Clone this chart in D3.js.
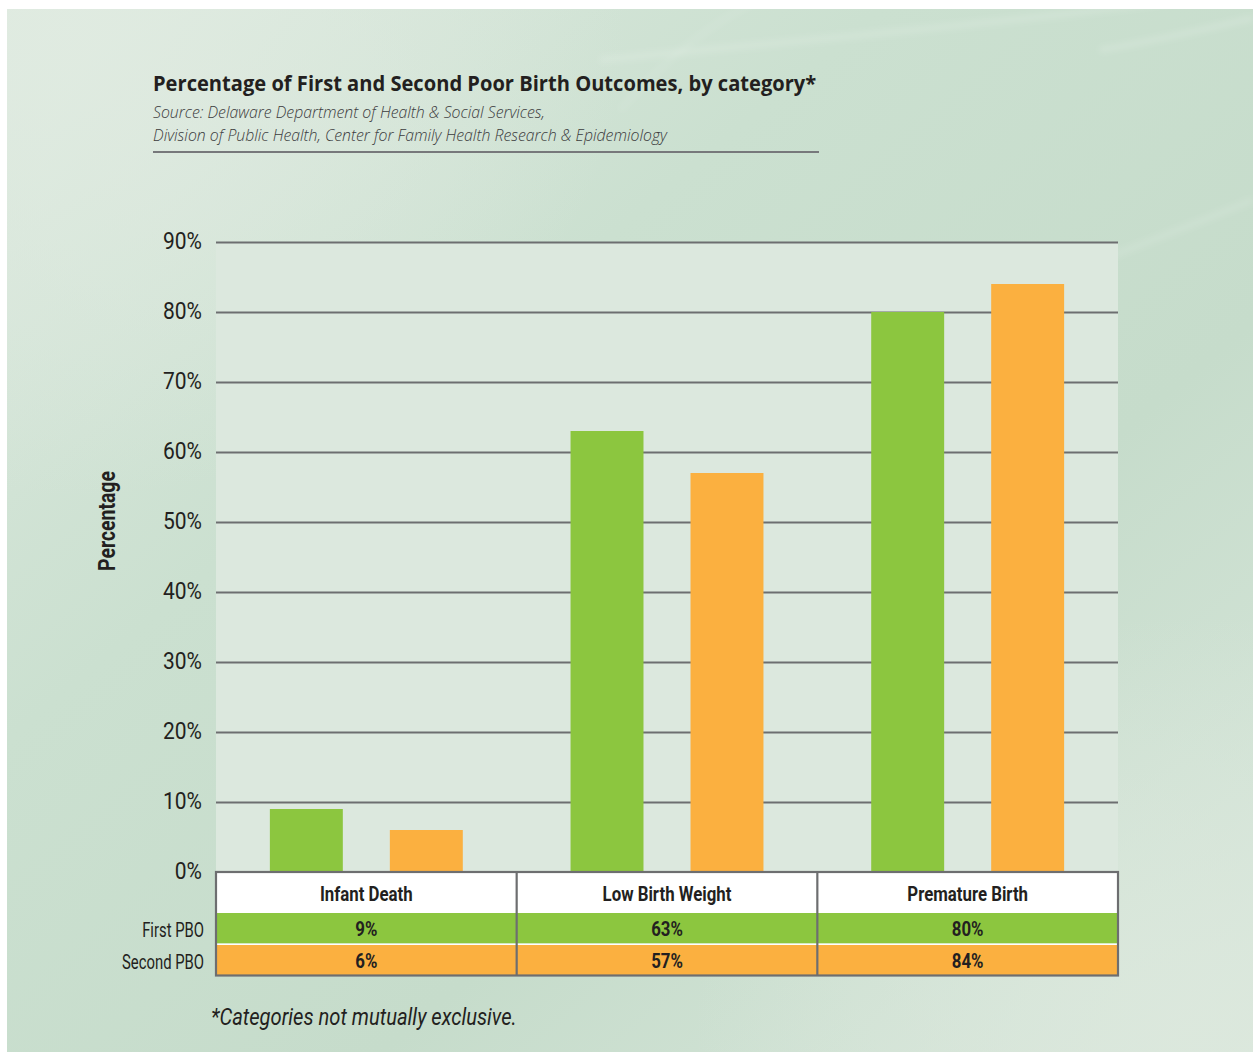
<!DOCTYPE html>
<html>
<head>
<meta charset="utf-8">
<script src="https://cdn.jsdelivr.net/npm/d3@7"></script>
<style>
  html, body { margin: 0; padding: 0; background: #ffffff; }
  svg { display: block; }
</style>
</head>
<body>
<svg id="chart" width="1253" height="1053"></svg>
<script>
// Poor birth outcomes by category, first vs. second PBO (%)
const categories = ["Infant Death", "Low Birth Weight", "Premature Birth"];
const seriesNames = ["First PBO", "Second PBO"];
const firstPBO = [9, 63, 80];
const secondPBO = [6, 57, 84];
const yTickValues = [0, 10, 20, 30, 40, 50, 60, 70, 80, 90];
const yTickLabels = ["0%", "10%", "20%", "30%", "40%", "50%", "60%", "70%", "80%", "90%"];

const titleText = "Percentage of First and Second Poor Birth Outcomes, by category*";
const sourceLines = [
  "Source: Delaware Department of Health & Social Services,",
  "Division of Public Health, Center for Family Health Research & Epidemiology"
];
const footnoteText = "*Categories not mutually exclusive.";
const yAxisTitle = "Percentage";

const seriesValues = [firstPBO, secondPBO];
const colors = { "First PBO": "#8cc63f", "Second PBO": "#fbb040" };
const ink = "#231f20";
const gridColor = "#6d6e70";
const narrow = "Roboto, 'Liberation Sans', sans-serif";
const regular = "'Open Sans', 'Noto Sans', sans-serif";

const svg = d3.select("#chart");
const defs = svg.append("defs");

// panel background: soft green with lighter corners
const lg = defs.append("linearGradient").attr("id", "panelBase")
  .attr("x1", "0").attr("y1", "0").attr("x2", "1").attr("y2", "1");
lg.append("stop").attr("offset", "0%").attr("stop-color", "#dde9df");
lg.append("stop").attr("offset", "35%").attr("stop-color", "#cbe0d0");
lg.append("stop").attr("offset", "65%").attr("stop-color", "#c6dccb");
lg.append("stop").attr("offset", "100%").attr("stop-color", "#d9e7dc");

const rg1 = defs.append("radialGradient").attr("id", "glowTL")
  .attr("cx", "0.05").attr("cy", "0.02").attr("r", "0.45");
rg1.append("stop").attr("offset", "0%").attr("stop-color", "#e0ebe1").attr("stop-opacity", 0.9);
rg1.append("stop").attr("offset", "100%").attr("stop-color", "#e0ebe1").attr("stop-opacity", 0);

const rg2 = defs.append("radialGradient").attr("id", "glowBR")
  .attr("cx", "0.95").attr("cy", "0.98").attr("r", "0.4");
rg2.append("stop").attr("offset", "0%").attr("stop-color", "#dce8dd").attr("stop-opacity", 0.9);
rg2.append("stop").attr("offset", "100%").attr("stop-color", "#dce8dd").attr("stop-opacity", 0);

const blur = defs.append("filter").attr("id", "soft").attr("x", "-10%").attr("y", "-10%")
  .attr("width", "120%").attr("height", "120%");
blur.append("feGaussianBlur").attr("stdDeviation", 3);

const panel = { x: 7, y: 9, w: 1246, h: 1043 };
svg.append("rect").attr("x", panel.x).attr("y", panel.y).attr("width", panel.w).attr("height", panel.h)
  .attr("fill", "url(#panelBase)");
svg.append("rect").attr("x", panel.x).attr("y", panel.y).attr("width", panel.w).attr("height", panel.h)
  .attr("fill", "url(#glowTL)");
svg.append("rect").attr("x", panel.x).attr("y", panel.y).attr("width", panel.w).attr("height", panel.h)
  .attr("fill", "url(#glowBR)");

// faint decorative swooshes in the backdrop
const swooshes = svg.append("g").attr("fill", "none").attr("stroke", "#ffffff")
  .attr("filter", "url(#soft)");
swooshes.append("path").attr("d", "M600,60 C800,40 1050,20 1253,-10")
  .attr("stroke-width", 6).attr("stroke-opacity", 0.15);
swooshes.append("path").attr("d", "M1100,50 C1160,40 1210,28 1253,18")
  .attr("stroke-width", 5).attr("stroke-opacity", 0.18);
swooshes.append("path").attr("d", "M620,110 C700,20 760,0 800,-20")
  .attr("stroke-width", 4).attr("stroke-opacity", 0.1);
swooshes.append("path").attr("d", "M1000,300 C1100,260 1180,230 1253,200")
  .attr("stroke-width", 6).attr("stroke-opacity", 0.12);

// plot geometry
const plot = { left: 216, right: 1118, top: 242, bottom: 872 };

const x0 = d3.scaleBand().domain(categories).range([plot.left, plot.right]).paddingInner(0).paddingOuter(0);
const x1 = d3.scaleBand().domain(seriesNames).range([0, x0.bandwidth()])
  .paddingInner(0.392).paddingOuter(0.449);
const y = d3.scaleLinear().domain([0, 90]).range([plot.bottom, plot.top]);

// plot background
svg.append("rect").attr("x", plot.left).attr("y", plot.top).attr("width", plot.right - plot.left)
  .attr("height", plot.bottom - plot.top).attr("fill", "#dce8de");

// gridlines
const yAxis = d3.axisLeft(y).tickValues(yTickValues).tickSize(-(plot.right - plot.left)).tickFormat(() => "");
const gGrid = svg.append("g").attr("transform", `translate(${plot.left},0)`).call(yAxis);
gGrid.select(".domain").remove();
gGrid.selectAll(".tick line").attr("stroke", gridColor).attr("stroke-width", 2.2);

// condensed text helper: place at (x, y) and squeeze horizontally
function squeeze(sel, xFn, yFn, s) {
  sel.attr("x", 0).attr("y", 0)
    .attr("transform", (d, i) => `translate(${xFn(d, i)},${yFn(d, i)}) scale(${s},1)`);
}
function widthOf(sel) { return sel.node().getComputedTextLength(); }

// tick labels
const tickG = svg.append("g");
const ticks = tickG.selectAll("text").data(yTickValues).join("text")
  .attr("text-anchor", "end").attr("dominant-baseline", "central")
  .attr("font-family", narrow).attr("font-size", 23).attr("fill", ink)
  .text((d, i) => yTickLabels[i]);
squeeze(ticks, () => 202, d => y(d) - 1, 39 / widthOf(ticks.filter(d => d === 90)));

// bars
const groups = svg.append("g").selectAll("g").data(categories).join("g")
  .attr("transform", d => `translate(${x0(d)},0)`);
groups.selectAll("rect")
  .data((c, ci) => seriesNames.map((s, si) => ({ s, v: seriesValues[si][ci] })))
  .join("rect")
  .attr("x", d => x1(d.s)).attr("width", x1.bandwidth())
  .attr("y", d => y(d.v)).attr("height", d => y(0) - y(d.v))
  .attr("fill", d => colors[d.s]);

// data table under the plot
const rowHeader = { top: 872, h: 41 };
const rowFirst = { top: 913, h: 30.5 };
const rowSecond = { top: 945, h: 30.5 };
const table = svg.append("g");
table.append("rect").attr("x", plot.left).attr("y", rowHeader.top)
  .attr("width", plot.right - plot.left).attr("height", rowHeader.h).attr("fill", "#ffffff");
table.append("rect").attr("x", plot.left).attr("y", rowFirst.top)
  .attr("width", plot.right - plot.left).attr("height", rowFirst.h).attr("fill", colors["First PBO"]);
table.append("rect").attr("x", plot.left).attr("y", rowFirst.top + rowFirst.h)
  .attr("width", plot.right - plot.left).attr("height", rowSecond.top - rowFirst.top - rowFirst.h).attr("fill", "#ffffff");
table.append("rect").attr("x", plot.left).attr("y", rowSecond.top)
  .attr("width", plot.right - plot.left).attr("height", rowSecond.h).attr("fill", colors["Second PBO"]);

const tableBottom = rowSecond.top + rowSecond.h;
table.append("rect").attr("x", plot.left).attr("y", rowHeader.top)
  .attr("width", plot.right - plot.left).attr("height", tableBottom - rowHeader.top)
  .attr("fill", "none").attr("stroke", gridColor).attr("stroke-width", 2.2);
table.selectAll("line.div").data(categories.slice(1)).join("line").attr("class", "div")
  .attr("x1", d => x0(d)).attr("x2", d => x0(d))
  .attr("y1", rowHeader.top).attr("y2", tableBottom)
  .attr("stroke", gridColor).attr("stroke-width", 2.2);

const colCenter = d => x0(d) + x0.bandwidth() / 2;
const headerLabels = table.selectAll("text.hdr").data(categories).join("text").attr("class", "hdr")
  .attr("text-anchor", "middle").attr("dominant-baseline", "central")
  .attr("font-family", narrow).attr("font-weight", 700).attr("font-size", 21).attr("fill", ink)
  .text(d => d);
const boldScale = 129 / widthOf(headerLabels.filter((d, i) => i === 1));
squeeze(headerLabels, colCenter, () => rowHeader.top + rowHeader.h / 2 + 1, boldScale);

const valueRows = [rowFirst, rowSecond];
const rowLabels = [];
seriesNames.forEach((s, si) => {
  const row = valueRows[si];
  const vals = table.selectAll(`text.val${si}`).data(categories).join("text").attr("class", `val${si}`)
    .attr("text-anchor", "middle").attr("dominant-baseline", "central")
    .attr("font-family", narrow).attr("font-weight", 700).attr("font-size", 21).attr("fill", ink)
    .text((d, ci) => seriesValues[si][ci] + "%");
  squeeze(vals, colCenter, () => row.top + row.h / 2 + 1, boldScale);
  rowLabels.push(table.append("text").datum(row)
    .attr("text-anchor", "end").attr("dominant-baseline", "central")
    .attr("font-family", narrow).attr("font-size", 21).attr("fill", ink)
    .text(s));
});
const regScale = 82 / widthOf(rowLabels[1]);
rowLabels.forEach(t => squeeze(t, () => 204, r => r.top + r.h / 2 + 1, regScale));

// axis title
const yTitle = svg.append("text")
  .attr("text-anchor", "middle").attr("dominant-baseline", "central")
  .attr("font-family", narrow).attr("font-weight", 700).attr("font-size", 23).attr("fill", ink)
  .text(yAxisTitle);
const ytScale = 100 / widthOf(yTitle);
yTitle.attr("transform", `translate(107,521) rotate(-90) scale(${ytScale},1)`);

// title block
const title = svg.append("text").attr("x", 153).attr("y", 91)
  .attr("font-family", regular).attr("font-weight", 700).attr("font-size", 21).attr("fill", ink)
  .text(titleText);
title.attr("transform", `translate(153,0) scale(${664 / widthOf(title)},1) translate(-153,0)`);
const src = sourceLines.map((t, i) => svg.append("text").attr("x", 153).attr("y", 118 + i * 23)
  .attr("font-family", regular).attr("font-style", "italic").attr("font-weight", 300)
  .attr("font-size", 16).attr("fill", "#3b3b3d").text(t));
const srcScale = 514 / widthOf(src[1]);
src.forEach(t => t.attr("transform", `translate(153,0) scale(${srcScale},1) translate(-153,0)`));
svg.append("line").attr("x1", 153).attr("x2", 819).attr("y1", 152).attr("y2", 152)
  .attr("stroke", "#77787b").attr("stroke-width", 2);

// footnote
const foot = svg.append("text")
  .attr("font-family", narrow).attr("font-style", "italic").attr("font-size", 24).attr("fill", ink)
  .text(footnoteText);
squeeze(foot, () => 211, () => 1025, 306 / widthOf(foot));
</script>
</body>
</html>
